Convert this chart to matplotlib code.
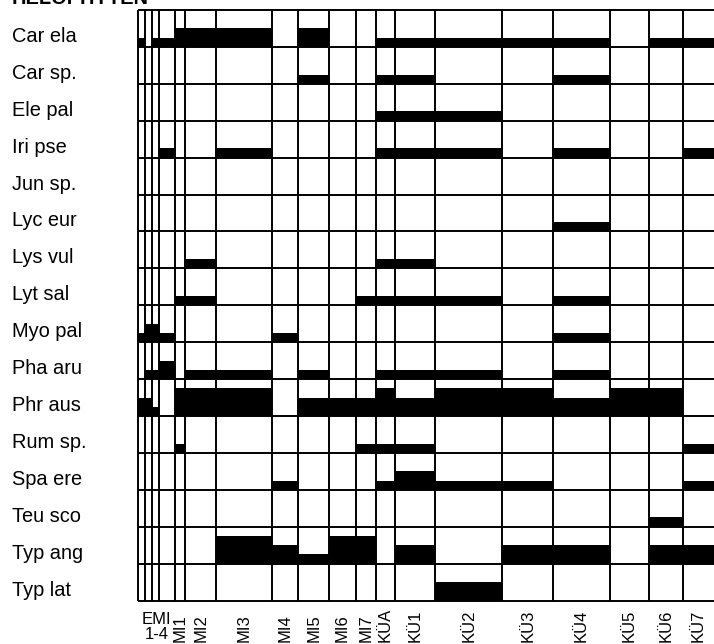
import matplotlib
matplotlib.use('Agg')
import matplotlib.pyplot as plt
from matplotlib.transforms import blended_transform_factory
import numpy as np

plt.rcParams['font.family'] = ['Liberation Sans', 'DejaVu Sans']

# Arten (Zeilen) und Aufnahmeflächen (Spalten)
species = ['Car ela', 'Car sp.', 'Ele pal', 'Iri pse', 'Jun sp.', 'Lyc eur',
           'Lys vul', 'Lyt sal', 'Myo pal', 'Pha aru', 'Phr aus', 'Rum sp.',
           'Spa ere', 'Teu sco', 'Typ ang', 'Typ lat']
plots = ['EMI1', 'EMI2', 'EMI3', 'EMI4', 'MI1', 'MI2', 'MI3', 'MI4', 'MI5',
         'MI6', 'MI7', 'KÜA', 'KÜ1', 'KÜ2', 'KÜ3', 'KÜ4', 'KÜ5', 'KÜ6', 'KÜ7']
# relative Breite der Spalten
plot_width = [7, 7, 7, 16, 9.7, 31.3, 56, 26, 31, 26.4, 20, 19.6, 39.7,
              67.3, 51, 56.2, 39.8, 33.4, 31.3]

# Deckungsklasse (0-3) je Art und Fläche
cover = [
    [1, 0, 1, 1, 2, 2, 2, 0, 2, 0, 0, 1, 1, 1, 1, 1, 0, 1, 1],  # Car ela
    [0, 0, 0, 0, 0, 0, 0, 0, 1, 0, 0, 1, 1, 0, 0, 1, 0, 0, 0],  # Car sp.
    [0, 0, 0, 0, 0, 0, 0, 0, 0, 0, 0, 1, 1, 1, 0, 0, 0, 0, 0],  # Ele pal
    [0, 0, 0, 1, 0, 0, 1, 0, 0, 0, 0, 1, 1, 1, 0, 1, 0, 0, 1],  # Iri pse
    [0, 0, 0, 0, 0, 0, 0, 0, 0, 0, 0, 0, 0, 0, 0, 0, 0, 0, 0],  # Jun sp.
    [0, 0, 0, 0, 0, 0, 0, 0, 0, 0, 0, 0, 0, 0, 0, 1, 0, 0, 0],  # Lyc eur
    [0, 0, 0, 0, 0, 1, 0, 0, 0, 0, 0, 1, 1, 0, 0, 0, 0, 0, 0],  # Lys vul
    [0, 0, 0, 0, 1, 1, 0, 0, 0, 0, 1, 1, 1, 1, 0, 1, 0, 0, 0],  # Lyt sal
    [1, 2, 2, 1, 0, 0, 0, 1, 0, 0, 0, 0, 0, 0, 0, 1, 0, 0, 0],  # Myo pal
    [0, 1, 1, 2, 0, 1, 1, 0, 1, 0, 0, 1, 1, 1, 0, 1, 0, 0, 0],  # Pha aru
    [2, 2, 1, 0, 3, 3, 3, 0, 2, 2, 2, 3, 2, 3, 3, 2, 3, 3, 0],  # Phr aus
    [0, 0, 0, 0, 1, 0, 0, 0, 0, 0, 1, 1, 1, 0, 0, 0, 0, 0, 1],  # Rum sp.
    [0, 0, 0, 0, 0, 0, 0, 1, 0, 0, 0, 1, 2, 1, 1, 0, 0, 0, 1],  # Spa ere
    [0, 0, 0, 0, 0, 0, 0, 0, 0, 0, 0, 0, 0, 0, 0, 0, 0, 1, 0],  # Teu sco
    [0, 0, 0, 0, 0, 0, 3, 2, 1, 3, 3, 0, 2, 0, 2, 2, 0, 2, 2],  # Typ ang
    [0, 0, 0, 0, 0, 0, 0, 0, 0, 0, 0, 0, 0, 2, 0, 0, 0, 0, 0],  # Typ lat
]

W, H = 714, 644
fig = plt.figure(figsize=(W / 100, H / 100), dpi=100)
ax = fig.add_axes([138.3 / W, (H - 600.5) / H, 575.7 / W, 590.5 / H])

row_h = 4
n_rows = len(species)
edges = np.concatenate([[0], np.cumsum(plot_width)])
lefts = edges[:-1]

for i, vals in enumerate(cover):
    base = (n_rows - 1 - i) * row_h
    ax.bar(lefts, vals, width=plot_width, bottom=base, align='edge',
           color='black', linewidth=0)

ax.set_xlim(0, edges[-1])
ax.set_ylim(0, n_rows * row_h)
ax.hlines(np.arange(n_rows + 1) * row_h, 0, edges[-1], color='black',
          linewidth=1.4, clip_on=False)
ax.vlines(edges[:-1], 0, n_rows * row_h, color='black', linewidth=1.4,
          clip_on=False)
ax.axis('off')

# Artnamen links
tr_y = blended_transform_factory(fig.transFigure, ax.transData)
for i, name in enumerate(species):
    base = (n_rows - 1 - i) * row_h
    ax.text(12 / W, base + 0.54, name, transform=tr_y, fontsize=14.4,
            ha='left', va='baseline')

# Flächenbezeichnungen unten
tr_x = blended_transform_factory(ax.transData, fig.transFigure)
centers = lefts + np.array(plot_width) / 2
for c, lab in zip(centers[4:], plots[4:]):
    ax.text(c, 2 / H, lab, transform=tr_x, rotation=90, fontsize=12,
            ha='center', va='bottom')
ax.text(edges[4] / 2, 2 / H, 'EMI\n1-4', transform=tr_x, fontsize=12,
        ha='center', va='bottom', multialignment='center', linespacing=1.0)

fig.text(12 / W, 1 - 4 / H, 'HELOPHYTEN', fontsize=14.4, fontweight='bold',
         ha='left', va='baseline')

fig.savefig('out.png', dpi=100)
